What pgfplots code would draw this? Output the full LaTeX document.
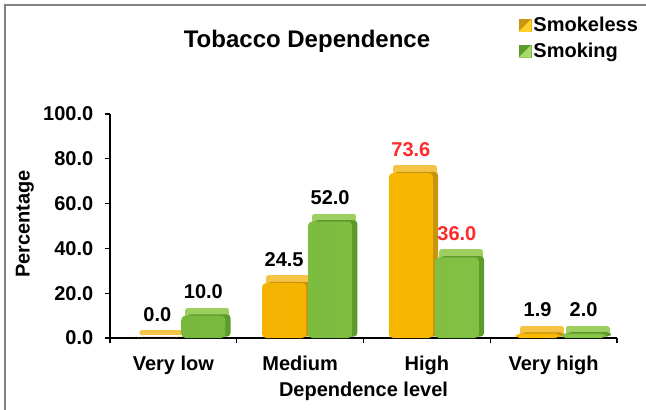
\documentclass[border=0pt]{standalone}
\usepackage{pgfplots}
\pgfplotsset{compat=1.18}
\usepackage{fontspec}
\setmainfont{Liberation Sans}

\definecolor{goldL}{HTML}{F2B000}
\definecolor{goldM}{HTML}{FFD42A}
\definecolor{goldR}{HTML}{F9BA00}
\definecolor{goldCap}{HTML}{F5C445}
\definecolor{goldSide}{HTML}{C99410}
\definecolor{greenL}{HTML}{78B83C}
\definecolor{greenM}{HTML}{ABDA6C}
\definecolor{greenR}{HTML}{86C447}
\definecolor{greenCap}{HTML}{9CCE60}
\definecolor{greenSide}{HTML}{5C9A2C}
\definecolor{valred}{HTML}{FF2A2A}
\definecolor{framegray}{HTML}{808080}

\newcommand{\lbl}{\fontsize{15}{18}\selectfont\bfseries}

\pgfplotsset{
  % cap: a slightly narrower bar stroked with a thick round-joined outline
  cap/.style={ybar, bar width=29pt, yshift=4pt, fill=#1, draw=#1, line width=4pt,
    line join=round, line cap=round, forget plot},
  side/.style={ybar, bar width=33pt, yshift=1pt, fill=#1, draw=none, rounded corners=3pt, forget plot},
  front/.style={ybar, bar width=33pt, draw=none, rounded corners=3pt, forget plot,
    nodes near coords, point meta=explicit symbolic},
}

\begin{document}
\begin{tikzpicture}
\useasboundingbox (0,0) rectangle (484.5pt,-307.5pt);
\draw[framegray, line width=1.5pt] (3.75pt,-307.5pt) -- (3.75pt,-3.75pt) -- (484.5pt,-3.75pt);
\node[font=\fontsize{18}{21}\selectfont\bfseries, anchor=base] at (230.25pt,-35.5pt) {Tobacco Dependence};
\begin{axis}[
  at={(82.5pt,-253.5pt)}, anchor=south west,
  scale only axis, width=380.25pt, height=168pt,
  xmin=-0.5, xmax=3.5, ymin=0, ymax=100,
  axis x line*=bottom, axis y line*=left,
  axis line style={line width=0.8pt},
  tick align=outside, major tick length=4pt,
  tick style={black, line width=0.8pt},
  ytick={0,20,...,100},
  yticklabel style={font=\lbl, xshift=-5pt, /pgf/number format/.cd, fixed, fixed zerofill, precision=1, assume math mode=true},
  xtick={-0.5,0.5,1.5,2.5,3.5}, xticklabels={},
  extra x ticks={0,1,2,3},
  extra x tick labels={Very low,Medium,High,Very high},
  extra x tick style={major tick length=0pt, xticklabel style={font=\lbl, anchor=base, yshift=-24pt}},
  ylabel={Percentage}, xlabel={Dependence level},
  ylabel style={font=\lbl, at={(axis description cs:-0.168,0.509)}, anchor=center},
  xlabel style={font=\lbl, at={(axis description cs:0.5,-0.262)}, anchor=base},
  clip=false,
  legend style={at={(0.806,1.445)}, anchor=north west, draw=none, fill=none, font=\lbl,
    inner sep=0pt, row sep=3pt, nodes={inner xsep=1.5pt}},
  legend cell align=left,
]
% Smokeless: top cap, right side, front face
\addplot[cap=goldCap, bar shift=-9pt]
  coordinates {(0,0) (1,24.5) (2,73.6) (3,1.9)};
\addplot[side=goldSide, bar shift=-8pt]
  coordinates {(0,0) (1,24.5) (2,73.6) (3,1.9)};
\addplot[front, bar shift=-12pt, left color=goldL, middle color=goldM, right color=goldR,
  every node near coord/.append style={font=\lbl, black, xshift=-12pt, yshift=9pt}]
  coordinates {(0,0) [0.0] (1,24.5) [24.5] (2,73.6) [\textcolor{valred}{73.6}] (3,1.9) [1.9]};
% Smoking: top cap, right side, front face
\addplot[cap=greenCap, bar shift=25.5pt]
  coordinates {(0,10) (1,52) (2,36) (3,2)};
\addplot[side=greenSide, bar shift=26.5pt]
  coordinates {(0,10) (1,52) (2,36) (3,2)};
\addplot[front, bar shift=22.5pt, left color=greenL, middle color=greenM, right color=greenR,
  every node near coord/.append style={font=\lbl, black, xshift=22.5pt, yshift=9pt}]
  coordinates {(0,10) [10.0] (1,52) [52.0] (2,36) [\textcolor{valred}{36.0}] (3,2) [2.0]};
\addlegendimage{legend image code/.code={
  \fill[goldSide] (0pt,-4.5pt) rectangle (9pt,4.5pt);
  \fill[goldM] (9pt,4.5pt) -- (9pt,-4.5pt) -- (0pt,-4.5pt) -- cycle;}}
\addlegendentry{Smokeless}
\addlegendimage{legend image code/.code={
  \fill[greenSide] (0pt,-4.5pt) rectangle (9pt,4.5pt);
  \fill[greenM] (9pt,4.5pt) -- (9pt,-4.5pt) -- (0pt,-4.5pt) -- cycle;}}
\addlegendentry{Smoking}
\end{axis}
\end{tikzpicture}
\end{document}
